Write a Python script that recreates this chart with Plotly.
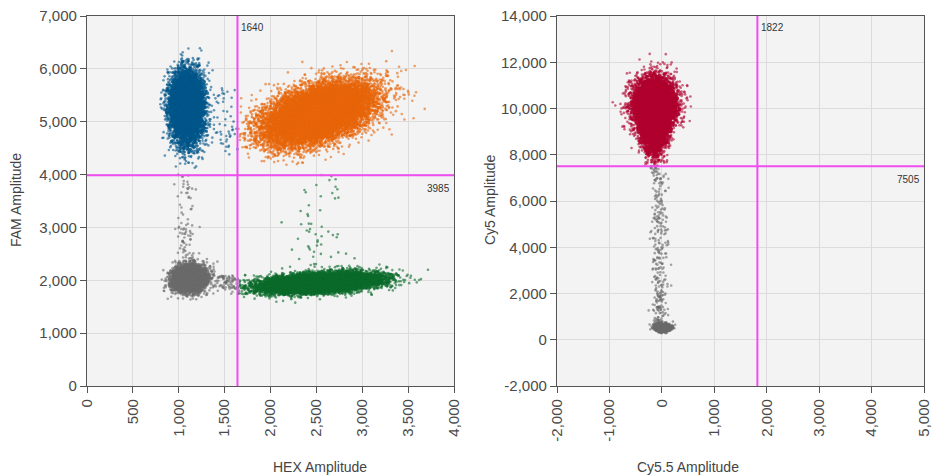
import numpy as np
import plotly.graph_objects as go

# ---- Thresholds -------------------------------------------------------------
hex_threshold = 1640
fam_threshold = 3985
cy55_threshold = 1822
cy5_threshold = 7505

# ---- Droplet cluster parameters (HEX vs FAM) ---------------------------------
# name, centre x, centre y, sd x, sd y, correlation, droplet count
left_names = ["FAM+", "FAM+HEX+", "HEX+", "neg"]
left_cx = [1085, 2520, 2530, 1120]
left_cy = [5280, 5150, 1950, 2030]
left_sx = [85, 290, 290, 90]
left_sy = [320, 285, 88, 118]
left_rho = [0.0, 0.45, 0.35, 0.1]
left_n = [9000, 14000, 14000, 5000]

# "rain" droplets between clusters: x range, y range, count, vertical bias
rain_x_lo = [960, 2150, 1330, 1280]
rain_x_hi = [1200, 2900, 1720, 1620]
rain_y_lo = [2250, 2250, 1850, 4500]
rain_y_hi = [4000, 4000, 2100, 5650]
rain_n = [110, 55, 70, 35]
rain_bias = [1.8, 1.4, 1.0, 1.0]

# ---- Droplet cluster parameters (Cy5.5 vs Cy5) -------------------------------
right_cx = [-140, 20]
right_cy = [9950, 500]
right_sx = [195, 75]
right_sy_up = [620, 75]
right_sy_down = [820, 75]
right_n = [11000, 1500]
right_rain_x = (-260, 200)
right_rain_y = (650, 7400)
right_rain_n = 300

# ---- Colours -----------------------------------------------------------------
col_blue = "#00578a"
col_orange = "#e8650a"
col_green = "#0b6a2b"
col_gray = "#6a6a6a"
col_red = "#b0002e"
col_thr = "#f04cf0"

rng = np.random.default_rng(12)

# HEX / FAM droplets
lx, ly = [], []
for cx, cy, sx, sy, r, n in zip(left_cx, left_cy, left_sx, left_sy, left_rho, left_n):
    cov = [[sx * sx, r * sx * sy], [r * sx * sy, sy * sy]]
    pts = rng.multivariate_normal([cx, cy], cov, n)
    lx.append(pts[:, 0]); ly.append(pts[:, 1])
for xl, xh, yl, yh, n, b in zip(rain_x_lo, rain_x_hi, rain_y_lo, rain_y_hi, rain_n, rain_bias):
    xm, xs = (xl + xh) / 2, (xh - xl) / 5
    lx.append(rng.normal(xm, xs, n))
    ly.append(yl + rng.uniform(0, 1, n) ** b * (yh - yl))
lx = np.concatenate(lx); ly = np.concatenate(ly)

# Cy5.5 / Cy5 droplets (positive cloud tapers towards its lower tail)
rx, ry = [], []
for cx, cy, sx, su, sd, n in zip(right_cx, right_cy, right_sx, right_sy_up, right_sy_down, right_n):
    z = rng.standard_normal(n)
    y = cy + np.where(z > 0, su, sd) * z
    width = sx * np.where(z > 0, 1.0, np.clip(1 + 0.2 * z, 0.35, 1.0))
    x = cx + width * rng.standard_normal(n)
    rx.append(x); ry.append(y)
u = rng.uniform(0, 1, right_rain_n) ** 1.5
rx.append(rng.normal(sum(right_rain_x) / 2 - 10, (right_rain_x[1] - right_rain_x[0]) / 6, right_rain_n))
ry.append(right_rain_y[0] + u * (right_rain_y[1] - right_rain_y[0]))
rx = np.concatenate(rx); ry = np.concatenate(ry)

fig = go.Figure()

# classify left droplets into quadrants by thresholds
quads = [
    ((lx < hex_threshold) & (ly < fam_threshold), col_gray, "Negative"),
    ((lx >= hex_threshold) & (ly < fam_threshold), col_green, "HEX+"),
    ((lx < hex_threshold) & (ly >= fam_threshold), col_blue, "FAM+"),
    ((lx >= hex_threshold) & (ly >= fam_threshold), col_orange, "FAM+HEX+"),
]
for mask, col, name in quads:
    fig.add_trace(go.Scatter(
        x=lx[mask], y=ly[mask], mode="markers", name=name,
        marker=dict(size=2.6, color=col, opacity=0.6, line=dict(width=0)),
        xaxis="x", yaxis="y", hoverinfo="skip"))

rquads = [
    (ry < cy5_threshold, col_gray, "Negative"),
    (ry >= cy5_threshold, col_red, "Cy5+"),
]
for mask, col, name in rquads:
    fig.add_trace(go.Scatter(
        x=rx[mask], y=ry[mask], mode="markers", name=name,
        marker=dict(size=2.6, color=col, opacity=0.6, line=dict(width=0)),
        xaxis="x2", yaxis="y2", hoverinfo="skip"))

font_main = "Liberation Sans, Arial, sans-serif"
tick_font = dict(family=font_main, size=15, color="#4a4a4a")


def fmt(v):
    s = f"{abs(v):,}"
    return ("-" + s) if v < 0 else s


left_xticks = list(range(0, 4001, 500))
left_yticks = list(range(0, 7001, 1000))
right_xticks = list(range(-2000, 5001, 1000))
right_yticks = list(range(-2000, 14001, 2000))

axis_common = dict(
    showgrid=True, gridcolor="#dcdcdc", gridwidth=1,
    showline=True, linecolor="#555", linewidth=1.2, mirror=True,
    ticks="outside", ticklen=6, tickcolor="#555",
    zeroline=False, tickfont=tick_font, automargin=False,
)

y_dom = [1 - 386 / 475, 1 - 16 / 475]
fig.update_layout(
    width=933, height=475,
    margin=dict(l=0, r=0, t=0, b=0),
    paper_bgcolor="white", plot_bgcolor="#f3f3f3",
    showlegend=False,
    font=dict(family=font_main, color="#444"),
    xaxis=dict(axis_common, domain=[87 / 933, 454 / 933], range=[0, 4000],
               tickvals=left_xticks, ticktext=[fmt(v) for v in left_xticks],
               tickangle=-90, anchor="y"),
    yaxis=dict(axis_common, domain=y_dom, range=[0, 7000],
               tickvals=left_yticks, ticktext=[fmt(v) for v in left_yticks], anchor="x"),
    xaxis2=dict(axis_common, domain=[557 / 933, 924 / 933], range=[-2000, 5000],
                tickvals=right_xticks, ticktext=[fmt(v) for v in right_xticks],
                tickangle=-90, anchor="y2"),
    yaxis2=dict(axis_common, domain=y_dom, range=[-2000, 14000],
                tickvals=right_yticks, ticktext=[fmt(v) for v in right_yticks], anchor="x2"),
)

# threshold lines
thr_line = dict(color=col_thr, width=2)
fig.add_shape(type="line", xref="x", yref="y domain", x0=hex_threshold, x1=hex_threshold, y0=0, y1=1, line=thr_line)
fig.add_shape(type="line", xref="x domain", yref="y", x0=0, x1=1, y0=fam_threshold, y1=fam_threshold, line=thr_line)
fig.add_shape(type="line", xref="x2", yref="y2 domain", x0=cy55_threshold, x1=cy55_threshold, y0=0, y1=1, line=thr_line)
fig.add_shape(type="line", xref="x2 domain", yref="y2", x0=0, x1=1, y0=cy5_threshold, y1=cy5_threshold, line=thr_line)

lab_font = dict(family=font_main, size=10, color="#333")
fig.add_annotation(xref="x", yref="y domain", x=hex_threshold, y=0.99, text=str(hex_threshold),
                   showarrow=False, xanchor="left", yanchor="top", xshift=2, font=lab_font)
fig.add_annotation(xref="x domain", yref="y", x=1, y=fam_threshold, text=str(fam_threshold),
                   showarrow=False, xanchor="right", yanchor="top", xshift=-2, yshift=-6, font=lab_font)
fig.add_annotation(xref="x2", yref="y2 domain", x=cy55_threshold, y=0.99, text=str(cy55_threshold),
                   showarrow=False, xanchor="left", yanchor="top", xshift=2, font=lab_font)
fig.add_annotation(xref="x2 domain", yref="y2", x=1, y=cy5_threshold, text=str(cy5_threshold),
                   showarrow=False, xanchor="right", yanchor="top", xshift=-2, yshift=-6, font=lab_font)

# axis titles
title_font = dict(family=font_main, size=14, color="#444")
fig.add_annotation(xref="paper", yref="paper", x=(87 + 454) / 2 / 933, y=1 - 467 / 475,
                   text="HEX Amplitude", showarrow=False, font=title_font, yanchor="middle")
fig.add_annotation(xref="paper", yref="paper", x=(557 + 924) / 2 / 933, y=1 - 467 / 475,
                   text="Cy5.5 Amplitude", showarrow=False, font=title_font, yanchor="middle")
fig.add_annotation(xref="paper", yref="paper", x=16 / 933, y=1 - 200 / 475,
                   text="FAM Amplitude", textangle=-90, showarrow=False, font=title_font,
                   xanchor="center", yanchor="middle")
fig.add_annotation(xref="paper", yref="paper", x=490 / 933, y=1 - 200 / 475,
                   text="Cy5 Amplitude", textangle=-90, showarrow=False, font=title_font,
                   xanchor="center", yanchor="middle")

fig.write_html("out.html")
